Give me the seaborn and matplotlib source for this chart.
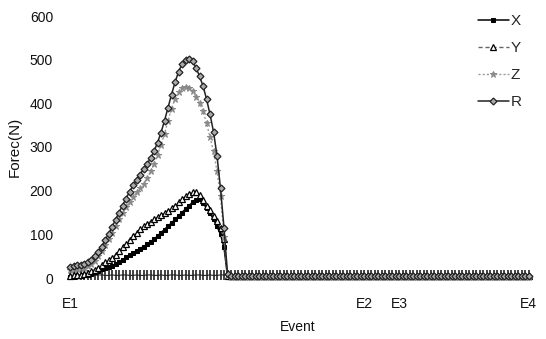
import numpy as np
import pandas as pd
import matplotlib
matplotlib.use("Agg")
import matplotlib.pyplot as plt
import seaborn as sns

# ---------------- data ----------------
event_labels = ["E1", "E2", "E3", "E4"]
event_positions = [0, 84, 94, 131]

X_rise = [3, 3, 4, 5, 6, 8, 10, 13, 17, 21, 24, 26, 28, 32, 37, 42, 47, 52, 57, 62,
          67, 72, 77, 83, 89, 96, 104, 111, 119, 126, 134, 142, 150, 158, 166, 173,
          179, 180, 172, 160, 148, 135, 118, 100, 70, 4]
X_tail = [3, 3, 4, 3, 3, 4, 4, 3, 3, 4, 4, 3, 3, 3, 4, 4, 3, 3, 4, 3,
          3, 4, 4, 3, 3, 3, 4, 3, 3, 4, 4, 3, 3, 4, 3, 3, 4, 4, 3, 3,
          3, 4, 3, 3, 4, 4, 3, 3, 3, 4, 4, 3, 3, 4, 3, 3, 4, 3, 3, 4,
          3, 3, 4, 4, 3, 3, 4, 3, 3, 3, 4, 4, 3, 3, 4, 3, 3, 4, 4, 3,
          3, 4, 3, 3, 4, 3]

Y_rise = [5, 6, 7, 8, 10, 12, 15, 19, 24, 30, 36, 41, 46, 53, 61, 70, 79, 88, 96, 104,
          112, 118, 124, 129, 134, 139, 144, 149, 154, 160, 166, 173, 180, 187, 193,
          197, 198, 190, 178, 165, 155, 143, 130, 115, 90, 5]
Y_tail = [4, 5, 4, 4, 5, 5, 4, 4, 5, 4, 4, 5, 5, 4, 4, 4, 5, 4, 4, 5,
          5, 4, 4, 5, 4, 4, 5, 5, 4, 4, 4, 5, 4, 4, 5, 5, 4, 4, 4, 5,
          5, 4, 4, 5, 4, 4, 5, 4, 4, 5, 4, 4, 5, 5, 4, 4, 5, 4, 4, 4,
          5, 5, 4, 4, 5, 4, 4, 5, 5, 4, 4, 5, 4, 4, 5, 4, 4, 5, 5, 4,
          4, 5, 4, 4, 5, 4]

Z_rise = [18, 20, 21, 22, 24, 27, 32, 40, 50, 62, 75, 89, 104, 119, 134, 148, 162, 175,
          186, 196, 206, 216, 228, 244, 262, 282, 305, 330, 360, 388, 410, 425, 434,
          437, 435, 428, 415, 400, 382, 355, 322, 290, 245, 188, 95, 8]
Z_tail = [2, 3, 2, 2, 3, 3, 2, 2, 3, 2, 2, 3, 3, 2, 2, 2, 3, 2, 2, 3,
          3, 2, 2, 3, 2, 2, 3, 3, 2, 2, 2, 3, 2, 2, 3, 3, 2, 2, 2, 3,
          3, 2, 2, 3, 2, 2, 3, 2, 2, 3, 2, 2, 3, 3, 2, 2, 3, 2, 2, 2,
          3, 3, 2, 2, 3, 2, 2, 3, 3, 2, 2, 3, 2, 2, 3, 2, 2, 3, 3, 2,
          2, 3, 2, 2, 3, 2]

R_rise = [25, 27, 29, 30, 32, 36, 42, 50, 60, 72, 86, 101, 117, 133, 150, 166, 182, 197,
          212, 225, 237, 249, 261, 274, 290, 310, 333, 360, 390, 420, 448, 472, 490,
          500, 502, 496, 482, 462, 440, 410, 375, 335, 280, 205, 115, 10]
R_tail = [5, 4, 5, 5, 4, 4, 5, 5, 4, 5, 5, 4, 4, 5, 5, 4, 5, 5, 4, 4,
          5, 5, 4, 5, 5, 4, 4, 5, 5, 4, 5, 5, 4, 4, 5, 5, 4, 5, 5, 4,
          4, 5, 5, 4, 5, 5, 4, 4, 5, 5, 4, 5, 5, 4, 4, 5, 5, 4, 5, 5,
          4, 4, 5, 5, 4, 5, 5, 4, 4, 5, 5, 4, 5, 5, 4, 4, 5, 5, 4, 5,
          5, 4, 4, 5, 5, 4]

baseline = [6, 6, 7, 6, 6, 7, 6, 6, 7, 7, 6, 6, 7, 6, 6, 7, 7, 6, 6, 7,
            6, 6, 7, 7, 6, 6, 7, 6, 6, 7, 7, 6, 6, 7, 6, 6, 7, 7, 6, 6,
            7, 6, 6, 7, 7, 6, 7, 8, 7, 7, 8, 8, 7, 7, 8, 7, 7, 8, 8, 7,
            7, 8, 7, 7, 8, 8, 7, 7, 8, 7, 7, 8, 8, 7, 7, 8, 7, 7, 8, 8,
            7, 7, 8, 7, 7, 8, 8, 7, 7, 8, 7, 7, 8, 8, 7, 7, 8, 7, 7, 8,
            8, 7, 7, 8, 7, 7, 8, 8, 7, 7, 8, 7, 7, 8, 8, 7, 7, 8, 7, 7,
            8, 8, 7, 7, 8, 7, 7, 8, 8, 7, 7, 8]

X_force = X_rise + X_tail
Y_force = Y_rise + Y_tail
Z_force = Z_rise + Z_tail
R_force = R_rise + R_tail

# ---------------- figure ----------------
sns.set_theme(style="white")
plt.rcParams["font.family"] = ["Liberation Sans", "DejaVu Sans"]

fig = plt.figure(figsize=(5.46, 3.39), dpi=100)
ax = fig.add_axes([60 / 546, 61 / 339, 475 / 546, 262 / 339])

common = dict(ax=ax, clip_on=False, sort=False)

sns.lineplot(x=np.arange(len(baseline)), y=baseline, color="#222222", linewidth=0.8,
             marker="|", markersize=7, markeredgewidth=1.2, markeredgecolor="#222222",
             legend=False, **common)
sns.lineplot(x=np.arange(len(X_force)), y=X_force, color="black", linewidth=1.1,
             marker="s", markersize=3.5, markerfacecolor="black", markeredgecolor="black",
             label="X", **common)
sns.lineplot(x=np.arange(len(Y_force)), y=Y_force, color="#666666", linewidth=1.0,
             linestyle=(0, (3, 2)), marker="^", markersize=4.5, markerfacecolor="white",
             markeredgecolor="black", markeredgewidth=0.9, label="Y", **common)
sns.lineplot(x=np.arange(len(Z_force)), y=Z_force, color="#999999", linewidth=1.0,
             linestyle=(0, (1.5, 1.5)), marker="*", markersize=5, markerfacecolor="#8a8a8a",
             markeredgecolor="#8a8a8a", label="Z", **common)
sns.lineplot(x=np.arange(len(R_force)), y=R_force, color="#222222", linewidth=1.1,
             marker="D", markersize=3.5, markerfacecolor="#aaaaaa",
             markeredgecolor="#222222", markeredgewidth=0.9, label="R", **common)

ax.set_ylim(0, 600)
ax.set_xlim((60 - 70) / 3.5, (535 - 70) / 3.5)
ax.set_yticks([0, 100, 200, 300, 400, 500, 600])
ax.set_xticks(event_positions)
ax.set_xticklabels(event_labels)
ax.tick_params(axis="both", length=0, labelsize=10, colors="#111111")
ax.tick_params(axis="x", pad=14)
ax.tick_params(axis="y", pad=5)
for s in ax.spines.values():
    s.set_visible(False)
ax.grid(False)

ax.set_xlabel("Event", fontsize=10, color="#111111", labelpad=6)
ax.set_ylabel("Forec(N)", fontsize=11, color="#111111", labelpad=6)

handles, labels = ax.get_legend_handles_labels()
ax.legend(handles, labels, loc="upper left",
          bbox_to_anchor=(478 / 546, 1 - 14 / 339), bbox_transform=fig.transFigure,
          frameon=False, fontsize=11, borderpad=0, borderaxespad=0,
          labelspacing=0.85, handlelength=2.0, handletextpad=0.15)

fig.savefig("out.png", dpi=100)
